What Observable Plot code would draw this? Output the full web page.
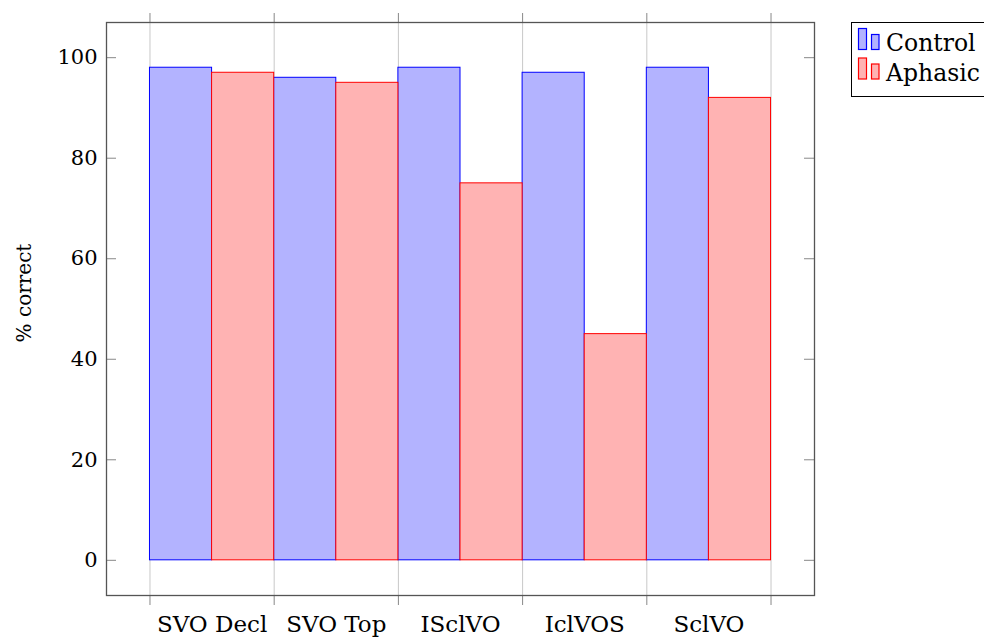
<!DOCTYPE html>
<html>
<head>
<meta charset="utf-8">
<script src="https://cdn.jsdelivr.net/npm/d3@7"></script>
<script src="https://cdn.jsdelivr.net/npm/@observablehq/plot@0.6"></script>
<style>
  html, body { margin: 0; padding: 0; background: white; overflow: hidden; }
  #wrap { position: relative; width: 984px; height: 637px; overflow: hidden; font-family: "DejaVu Serif", serif; }
  #legend { position: absolute; left: 0; top: 0; pointer-events: none; }
</style>
</head>
<body>
<div id="wrap"></div>
<script>
const categories = ["SVO Decl", "SVO Top", "ISclVO", "IclVOS", "SclVO"];
const control = [98, 96, 98, 97, 98];
const aphasic = [97, 95, 75, 45, 92];
const yTicks = [0, 20, 40, 60, 80, 100];
const seriesNames = ["Control", "Aphasic"];
const seriesFill = ["#b3b3ff", "#ffb3b3"];
const seriesStroke = ["#0000ff", "#ff0000"];

const W = 984, H = 637;
const mL = 106, mR = 170, mT = 22, mB = 42;
const frameW = W - mL - mR;

const controlRows = categories.map((c, i) => ({cat: c, idx: i, value: control[i]}));
const aphasicRows = categories.map((c, i) => ({cat: c, idx: i, value: aphasic[i]}));
const boundaries = d3.range(categories.length + 1);
const centers = categories.map((c, i) => i + 0.5);

const chart = Plot.plot({
  width: W, height: H,
  marginLeft: mL, marginRight: mR, marginTop: mT, marginBottom: mB,
  style: {fontFamily: "DejaVu Serif", fontSize: "21px", color: "black", background: "white"},
  x: {type: "linear", domain: [-0.35, categories.length + 0.35]},
  y: {domain: [-7, 107]},
  marks: [
    Plot.gridX(boundaries, {stroke: "#c8c8c8", strokeOpacity: 1}),
    Plot.rectY(controlRows, {x1: d => d.idx, x2: d => d.idx + 0.5, y1: 0, y2: "value",
      fill: seriesFill[0], stroke: seriesStroke[0], strokeWidth: 1}),
    Plot.rectY(aphasicRows, {x1: d => d.idx + 0.5, x2: d => d.idx + 1, y1: 0, y2: "value",
      fill: seriesFill[1], stroke: seriesStroke[1], strokeWidth: 1}),
    Plot.axisX(boundaries, {anchor: "top", tickSize: 10, tickFormat: () => "", stroke: "#888", label: null}),
    Plot.axisX(boundaries, {anchor: "bottom", tickSize: 10, tickFormat: () => "", stroke: "#888", label: null}),
    Plot.axisX(centers, {anchor: "bottom", tickSize: 0, tickPadding: 20, fontSize: 23,
      tickFormat: d => categories[Math.floor(d)], label: null}),
    Plot.axisY(yTicks, {anchor: "left", tickSize: 0, tickPadding: 9, fontSize: 21, label: null}),
    Plot.tickY(yTicks, {y: d => d, stroke: "#888", insetRight: frameW - 10}),
    Plot.tickY(yTicks, {y: d => d, stroke: "#888", insetLeft: frameW - 10}),
    Plot.frame({stroke: "#555", strokeWidth: 1.3}),
    Plot.text(["% correct"], {frameAnchor: "left", textAnchor: "middle", dx: -82, dy: -16, rotate: -90,
      fontSize: 20, fill: "black"})
  ]
});

const wrap = document.getElementById("wrap");
wrap.appendChild(chart);

// Legend (overlay, top right)
const ns = "http://www.w3.org/2000/svg";
const lg = document.createElementNS(ns, "svg");
lg.setAttribute("id", "legend");
lg.setAttribute("width", W);
lg.setAttribute("height", H);
const box = document.createElementNS(ns, "rect");
box.setAttribute("x", 851.5); box.setAttribute("y", 22.5);
box.setAttribute("width", 140); box.setAttribute("height", 74);
box.setAttribute("fill", "white"); box.setAttribute("stroke", "black"); box.setAttribute("stroke-width", 1);
lg.appendChild(box);
seriesNames.forEach((name, k) => {
  const base = 50.5 + k * 29.5;
  [[858.5, base - 22, 8, 21], [871.5, base - 16, 7.5, 15]].forEach(([x, y, w, h]) => {
    const r = document.createElementNS(ns, "rect");
    r.setAttribute("x", x); r.setAttribute("y", y);
    r.setAttribute("width", w); r.setAttribute("height", h);
    r.setAttribute("fill", seriesFill[k]); r.setAttribute("stroke", seriesStroke[k]);
    r.setAttribute("stroke-width", 1.2);
    lg.appendChild(r);
  });
  const t = document.createElementNS(ns, "text");
  t.setAttribute("x", 886); t.setAttribute("y", base + 0.5);
  t.setAttribute("font-family", "DejaVu Serif");
  t.setAttribute("font-size", "23.5px");
  t.setAttribute("fill", "black");
  t.textContent = name;
  lg.appendChild(t);
});
wrap.appendChild(lg);
</script>
</body>
</html>
